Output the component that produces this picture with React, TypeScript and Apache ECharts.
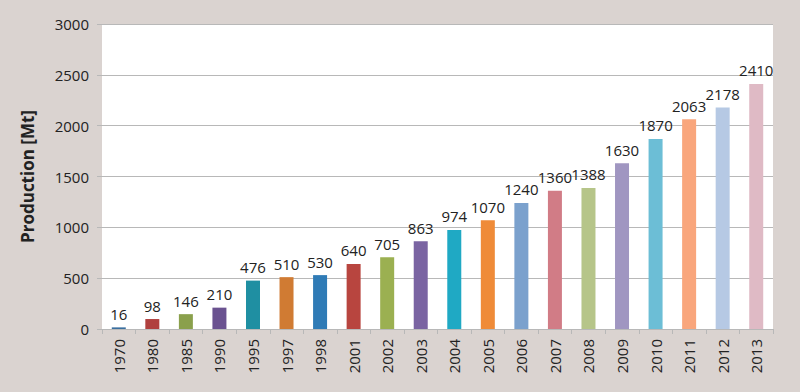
import React, { useEffect, useRef } from "react";
import * as echarts from "echarts";

const years = ["1970","1980","1985","1990","1995","1997","1998","2001","2002","2003","2004","2005","2006","2007","2008","2009","2010","2011","2012","2013"];
const production = [16,98,146,210,476,510,530,640,705,863,974,1070,1240,1360,1388,1630,1870,2063,2178,2410];
const barColors = ["#3a6f9f","#b0403e","#8aa04c","#6a5290","#1f8fa2","#d07b33","#2f7bb6","#b8453f","#9bb051","#7a64a2","#1fa9c4","#ef8b38","#7ba1cd","#d17c86","#b6c589","#a096c1","#6cbed6","#f9a67c","#b6c9e4","#dfbac5"];
const yTicks = { min: 0, max: 3000, interval: 500 };

export default function App() {
  const ref = useRef<HTMLDivElement>(null);
  useEffect(() => {
    if (!ref.current) return;
    const chart = echarts.init(ref.current, null, { renderer: "svg" });
    chart.setOption({
      animation: false,
      backgroundColor: "#dad3d0",
      textStyle: { fontFamily: "Open Sans" },
      grid: { left: 102, right: 27, top: 24, bottom: 63, show: true, backgroundColor: "#ffffff", borderWidth: 0 },
      xAxis: {
        type: "category",
        data: years,
        boundaryGap: true,
        axisLine: { show: true, lineStyle: { color: "#b8b8b8", width: 1 } },
        axisTick: { show: true, alignWithLabel: false, length: 5, lineStyle: { color: "#b8b8b8" } },
        axisLabel: { rotate: 90, margin: 10, fontSize: 15, color: "#222", fontFamily: "Open Sans" },
      },
      yAxis: {
        type: "value",
        min: yTicks.min,
        max: yTicks.max,
        interval: yTicks.interval,
        name: "Production [Mt]",
        nameLocation: "middle",
        nameGap: 66,
        nameTextStyle: { fontSize: 17, fontWeight: "bold", color: "#222", fontFamily: "Open Sans" },
        axisLine: { show: false },
        axisTick: { show: true, length: 5, lineStyle: { color: "#b8b8b8" } },
        axisLabel: { fontSize: 15, color: "#222", margin: 13, fontFamily: "Open Sans", formatter: (v: number) => String(v) },
        splitLine: { show: true, lineStyle: { color: "#b8b8b8", width: 1 } },
      },
      series: [
        {
          type: "bar",
          data: production.map((v, i) => ({ value: v, itemStyle: { color: barColors[i] } })),
          barWidth: 14,
          label: { show: true, position: "top", distance: 6, fontSize: 15, color: "#222", fontFamily: "Open Sans" },
        },
      ],
    });
    return () => chart.dispose();
  }, []);
  return <div ref={ref} style={{ width: 800, height: 392, position: "absolute", left: 0, top: 0 }} />;
}
